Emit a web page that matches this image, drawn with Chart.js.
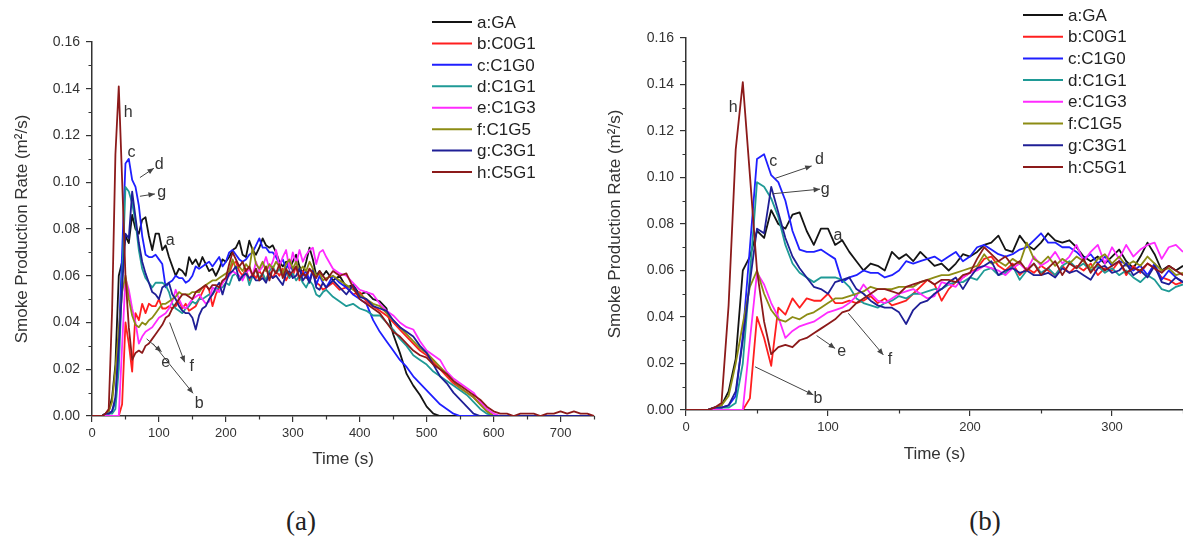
<!DOCTYPE html>
<html>
<head>
<meta charset="utf-8">
<script src="https://cdn.jsdelivr.net/npm/chart.js@4.4.1/dist/chart.umd.min.js"></script>
<style>
  html, body { margin: 0; padding: 0; background: #fff; overflow: hidden; }
  #wrap { position: relative; width: 1183px; height: 539px; }
  canvas { position: absolute; top: 0; }
  .cap { position: absolute; top: 506px; font-family: "Liberation Serif", serif; font-size: 27px; color: #222; transform: translateX(-50%); }
</style>
</head>
<body>
<div id="wrap">
  <canvas id="chartA" width="640" height="480" style="left:0px"></canvas>
  <canvas id="chartB" width="596" height="480" style="left:590px"></canvas>
  <div class="cap" style="left:301px">(a)</div>
  <div class="cap" style="left:985px">(b)</div>
</div>
<script>
// time (s): 5 s steps up to 350, then 10 s steps
const times = [
  0, 5, 10, 15, 20, 25, 30, 35, 40, 45,
  50, 55, 60, 65, 70, 75, 80, 85, 90, 95,
  100, 105, 110, 115, 120, 125, 130, 135, 140, 145,
  150, 155, 160, 165, 170, 175, 180, 185, 190, 195,
  200, 205, 210, 215, 220, 225, 230, 235, 240, 245,
  250, 255, 260, 265, 270, 275, 280, 285, 290, 295,
  300, 305, 310, 315, 320, 325, 330, 335, 340, 345,
  350,
  360, 370, 380, 390, 400, 410, 420, 430, 440, 450,
  460, 470, 480, 490, 500, 510, 520, 530, 540, 550,
  560, 570, 580, 590, 600, 610, 620, 630, 640, 650,
  660, 670, 680, 690, 700, 710, 720, 730, 740, 750
];

// smoke production rate (m2/s)
const rateGA = [
  0, 0, 0, 0, 0.001, 0.002, 0.008, 0.022, 0.060, 0.066,
  0.077, 0.074, 0.086, 0.080, 0.078, 0.084, 0.085, 0.077, 0.071, 0.078,
  0.078, 0.071, 0.073, 0.068, 0.064, 0.060, 0.063, 0.062, 0.060, 0.068,
  0.065, 0.067, 0.064, 0.068, 0.065, 0.062, 0.063, 0.060, 0.063, 0.067,
  0.066, 0.068, 0.071, 0.072, 0.075, 0.069, 0.068, 0.075, 0.071, 0.069,
  0.072, 0.076, 0.073, 0.072, 0.073, 0.070, 0.066, 0.064, 0.066, 0.063,
  0.066, 0.069, 0.064, 0.061, 0.066, 0.072, 0.067, 0.060, 0.062, 0.060,
  0.062,
  0.058, 0.060, 0.055, 0.056, 0.052, 0.053, 0.050, 0.049, 0.046, 0.035,
  0.027, 0.018, 0.013, 0.009, 0.004, 0.001, 0, 0, 0, 0,
  0, 0, 0, 0, 0, 0, 0, 0, 0, 0,
  0, 0, 0, 0, 0, 0, 0, 0, 0, 0
];
const rateC0G1 = [
  0, 0, 0, 0, 0, 0, 0, 0, 0, 0.005,
  0.040, 0.031, 0.019, 0.044, 0.041, 0.048, 0.044, 0.048, 0.047, 0.047,
  0.050, 0.046, 0.046, 0.047, 0.046, 0.047, 0.049, 0.046, 0.048, 0.045,
  0.046, 0.047, 0.050, 0.053, 0.056, 0.054, 0.047, 0.052, 0.055, 0.057,
  0.059, 0.061, 0.065, 0.066, 0.062, 0.060, 0.063, 0.058, 0.061, 0.059,
  0.062, 0.060, 0.058, 0.062, 0.059, 0.062, 0.060, 0.063, 0.058, 0.061,
  0.060, 0.064, 0.058, 0.062, 0.059, 0.063, 0.061, 0.057, 0.056, 0.054,
  0.055,
  0.057, 0.054, 0.055, 0.052, 0.053, 0.049, 0.047, 0.045, 0.043, 0.040,
  0.037, 0.034, 0.031, 0.028, 0.026, 0.023, 0.020, 0.017, 0.014, 0.012,
  0.010, 0.008, 0.005, 0.002, 0, 0, 0, 0, 0, 0,
  0, 0, 0, 0, 0, 0, 0, 0, 0, 0
];
const rateC1G0 = [
  0, 0, 0, 0, 0.001, 0.001, 0.002, 0.006, 0.032, 0.070,
  0.108, 0.110, 0.101, 0.098, 0.090, 0.077, 0.069, 0.068, 0.068, 0.069,
  0.067, 0.065, 0.055, 0.057, 0.058, 0.060, 0.059, 0.059, 0.057, 0.058,
  0.060, 0.064, 0.063, 0.064, 0.065, 0.066, 0.064, 0.066, 0.068, 0.064,
  0.066, 0.070, 0.071, 0.069, 0.067, 0.066, 0.067, 0.069, 0.070, 0.073,
  0.076, 0.072, 0.072, 0.070, 0.070, 0.068, 0.065, 0.067, 0.063, 0.066,
  0.062, 0.064, 0.063, 0.060, 0.062, 0.058, 0.063, 0.056, 0.060, 0.057,
  0.055,
  0.060, 0.057, 0.055, 0.052, 0.050, 0.048, 0.041, 0.036, 0.032, 0.028,
  0.024, 0.021, 0.017, 0.014, 0.011, 0.008, 0.005, 0.003, 0.001, 0,
  0, 0, 0, 0, 0, 0, 0, 0, 0, 0,
  0, 0, 0, 0, 0, 0, 0, 0, 0, 0
];
const rateC1G1 = [
  0, 0, 0, 0, 0.001, 0.001, 0.001, 0.003, 0.020, 0.058,
  0.098, 0.096, 0.091, 0.083, 0.071, 0.063, 0.059, 0.057, 0.055, 0.057,
  0.057, 0.057, 0.056, 0.053, 0.048, 0.046, 0.045, 0.044, 0.046, 0.047,
  0.049, 0.048, 0.050, 0.050, 0.051, 0.052, 0.052, 0.054, 0.055, 0.055,
  0.057, 0.056, 0.060, 0.061, 0.058, 0.059, 0.062, 0.056, 0.060, 0.063,
  0.059, 0.061, 0.058, 0.062, 0.064, 0.061, 0.063, 0.060, 0.062, 0.059,
  0.061, 0.058, 0.060, 0.057, 0.055, 0.058, 0.056, 0.052, 0.051, 0.053,
  0.054,
  0.051, 0.049, 0.047, 0.048, 0.046, 0.045, 0.043, 0.043, 0.040, 0.037,
  0.033, 0.030, 0.026, 0.024, 0.022, 0.019, 0.017, 0.015, 0.013, 0.011,
  0.009, 0.006, 0.003, 0.001, 0, 0, 0, 0, 0, 0,
  0, 0, 0, 0, 0, 0, 0, 0, 0, 0
];
const rateC1G3 = [
  0, 0, 0, 0, 0, 0, 0, 0, 0, 0.030,
  0.059, 0.054, 0.046, 0.040, 0.031, 0.034, 0.036, 0.037, 0.038, 0.040,
  0.042, 0.043, 0.044, 0.046, 0.049, 0.054, 0.050, 0.047, 0.046, 0.048,
  0.050, 0.051, 0.052, 0.050, 0.048, 0.049, 0.055, 0.054, 0.053, 0.057,
  0.059, 0.060, 0.062, 0.061, 0.060, 0.058, 0.061, 0.063, 0.060, 0.066,
  0.062, 0.064, 0.068, 0.063, 0.066, 0.071, 0.064, 0.068, 0.071, 0.063,
  0.070, 0.065, 0.071, 0.066, 0.069, 0.071, 0.072, 0.065, 0.070, 0.071,
  0.068,
  0.063, 0.061, 0.060, 0.057, 0.054, 0.053, 0.052, 0.048, 0.045, 0.043,
  0.040, 0.038, 0.037, 0.032, 0.028, 0.026, 0.024, 0.019, 0.016, 0.014,
  0.012, 0.010, 0.006, 0.003, 0.001, 0, 0, 0, 0, 0,
  0, 0, 0, 0, 0, 0, 0, 0, 0, 0
];
const rateC1G5 = [
  0, 0, 0, 0, 0.001, 0.002, 0.006, 0.020, 0.037, 0.053,
  0.060, 0.050, 0.043, 0.039, 0.038, 0.040, 0.039, 0.041, 0.042, 0.044,
  0.046, 0.048, 0.048, 0.049, 0.050, 0.051, 0.053, 0.052, 0.052, 0.052,
  0.053, 0.053, 0.053, 0.055, 0.056, 0.057, 0.058, 0.058, 0.059, 0.060,
  0.061, 0.062, 0.067, 0.063, 0.064, 0.062, 0.065, 0.063, 0.072, 0.065,
  0.063, 0.066, 0.062, 0.065, 0.063, 0.066, 0.064, 0.061, 0.065, 0.067,
  0.063, 0.066, 0.062, 0.064, 0.062, 0.066, 0.063, 0.060, 0.061, 0.058,
  0.059,
  0.060, 0.058, 0.056, 0.054, 0.052, 0.050, 0.048, 0.047, 0.044, 0.041,
  0.038, 0.035, 0.032, 0.029, 0.027, 0.024, 0.021, 0.018, 0.015, 0.012,
  0.010, 0.008, 0.005, 0.002, 0, 0, 0, 0, 0, 0,
  0, 0, 0, 0, 0, 0, 0, 0, 0, 0
];
const rateC3G1 = [
  0, 0, 0, 0, 0.001, 0.001, 0.002, 0.008, 0.030, 0.055,
  0.078, 0.076, 0.096, 0.085, 0.074, 0.066, 0.061, 0.057, 0.053, 0.052,
  0.050, 0.055, 0.056, 0.057, 0.052, 0.050, 0.047, 0.045, 0.044, 0.044,
  0.042, 0.037, 0.043, 0.046, 0.047, 0.050, 0.052, 0.055, 0.057, 0.052,
  0.057, 0.061, 0.062, 0.064, 0.058, 0.060, 0.061, 0.059, 0.060, 0.058,
  0.058, 0.059, 0.057, 0.061, 0.059, 0.060, 0.058, 0.056, 0.061, 0.062,
  0.059, 0.060, 0.063, 0.058, 0.060, 0.057, 0.062, 0.055, 0.054, 0.057,
  0.055,
  0.058, 0.055, 0.052, 0.056, 0.051, 0.050, 0.047, 0.046, 0.045, 0.041,
  0.038, 0.036, 0.034, 0.030, 0.027, 0.022, 0.017, 0.014, 0.010, 0.007,
  0.004, 0.001, 0, 0, 0, 0, 0, 0, 0, 0,
  0, 0, 0, 0, 0, 0, 0, 0, 0, 0
];
const rateC5G1 = [
  0, 0, 0, 0, 0.001, 0.003, 0.045, 0.112, 0.141, 0.101,
  0.060, 0.038, 0.024, 0.027, 0.028, 0.027, 0.030, 0.031, 0.033, 0.035,
  0.037, 0.039, 0.042, 0.043, 0.046, 0.048, 0.050, 0.052, 0.052, 0.051,
  0.050, 0.053, 0.054, 0.055, 0.056, 0.054, 0.056, 0.056, 0.055, 0.058,
  0.059, 0.065, 0.070, 0.067, 0.064, 0.066, 0.062, 0.064, 0.060, 0.063,
  0.058, 0.061, 0.064, 0.058, 0.063, 0.061, 0.065, 0.059, 0.063, 0.060,
  0.062, 0.064, 0.059, 0.061, 0.060, 0.063, 0.061, 0.059, 0.062, 0.060,
  0.058,
  0.062, 0.060, 0.061, 0.055, 0.050, 0.048, 0.046, 0.044, 0.040, 0.036,
  0.034, 0.031, 0.028, 0.026, 0.025, 0.022, 0.020, 0.018, 0.015, 0.013,
  0.011, 0.009, 0.007, 0.004, 0.002, 0.001, 0.001, 0, 0.001, 0.001,
  0.001, 0, 0.001, 0.001, 0.002, 0.001, 0.002, 0.001, 0.001, 0
];

const seriesLabels = ['a:GA', 'b:C0G1', 'c:C1G0', 'd:C1G1', 'e:C1G3', 'f:C1G5', 'g:C3G1', 'h:C5G1'];
const seriesValues = [rateGA, rateC0G1, rateC1G0, rateC1G1, rateC1G3, rateC1G5, rateC3G1, rateC5G1];
const seriesColors = ['#141414', '#ff1f1f', '#1f1fff', '#1f9a96', '#ff2bff', '#8c8c14', '#1f1f96', '#8c1a1a'];

// tick values
const rateMinorTicks = [0.01, 0.03, 0.05, 0.07, 0.09, 0.11, 0.13, 0.15];
const timeMinorTicksA = [50, 150, 250, 350, 450, 550, 650, 750];
const timeMinorTicksB = [50, 150, 250, 350];

// curve labels (letter, time, rate) and arrows (from time/rate -> to time/rate)
const labelsA = [['h', 54, 0.130], ['c', 59, 0.1125], ['d', 100.5, 0.1075], ['g', 104, 0.0954],
                 ['a', 117, 0.075], ['e', 110, 0.023], ['f', 149, 0.021], ['b', 160, 0.0054]];
const arrowsA = [[71.6, 0.102, 92.5, 0.106], [71.6, 0.094, 94, 0.095], [81.6, 0.033, 104, 0.0275],
                 [116, 0.040, 138.5, 0.023], [91, 0.031, 151, 0.0097]];
const labelsB = [['h', 33.3, 0.130], ['c', 61.5, 0.107], ['d', 94, 0.1075], ['g', 98, 0.0946],
                 ['a', 107, 0.075], ['e', 109.6, 0.025], ['f', 143.6, 0.0215], ['b', 93, 0.005]];
const arrowsB = [[62.7, 0.0996, 88.5, 0.105], [61, 0.093, 94.4, 0.095], [92, 0.032, 105, 0.0265],
                 [114.3, 0.0416, 139, 0.0237], [48.6, 0.0186, 89.7, 0.0065]];

const FONT = '"Liberation Sans", Arial, sans-serif';
const INK = '#333';

const extras = {
  id: 'extras',
  afterDraw(chart, args, o) {
    const { ctx, scales: { x, y } } = chart;
    ctx.save();
    // minor ticks
    ctx.strokeStyle = INK;
    ctx.lineWidth = 1.2;
    ctx.beginPath();
    o.xMinor.forEach(v => {
      const px = Math.round(x.getPixelForValue(v)) + 0.5;
      ctx.moveTo(px, y.bottom);
      ctx.lineTo(px, y.bottom + 3.5);
    });
    rateMinorTicks.forEach(v => {
      const py = Math.round(y.getPixelForValue(v)) + 0.5;
      ctx.moveTo(x.left, py);
      ctx.lineTo(x.left - 3.5, py);
    });
    ctx.stroke();

    // arrows
    ctx.strokeStyle = '#444';
    ctx.fillStyle = '#444';
    ctx.lineWidth = 1;
    o.arrows.forEach(a => {
      const x0 = x.getPixelForValue(a[0]), y0 = y.getPixelForValue(a[1]);
      const x1 = x.getPixelForValue(a[2]), y1 = y.getPixelForValue(a[3]);
      const ang = Math.atan2(y1 - y0, x1 - x0);
      ctx.beginPath();
      ctx.moveTo(x0, y0);
      ctx.lineTo(x1, y1);
      ctx.stroke();
      ctx.beginPath();
      ctx.moveTo(x1, y1);
      ctx.lineTo(x1 - 7 * Math.cos(ang - 0.4), y1 - 7 * Math.sin(ang - 0.4));
      ctx.lineTo(x1 - 7 * Math.cos(ang + 0.4), y1 - 7 * Math.sin(ang + 0.4));
      ctx.closePath();
      ctx.fill();
    });

    // letters
    ctx.fillStyle = INK;
    ctx.font = '16px ' + FONT;
    ctx.textAlign = 'center';
    ctx.textBaseline = 'middle';
    o.labels.forEach(l => {
      ctx.fillText(l[0], x.getPixelForValue(l[1]), y.getPixelForValue(l[2]));
    });

    // legend
    const lg = o.legend;
    ctx.font = '17px ' + FONT;
    ctx.textAlign = 'left';
    chart.data.datasets.forEach((ds, i) => {
      const ly = lg.y + i * lg.dy;
      ctx.strokeStyle = ds.borderColor;
      ctx.lineWidth = 2;
      ctx.beginPath();
      ctx.moveTo(lg.x, ly);
      ctx.lineTo(lg.x + 40, ly);
      ctx.stroke();
      ctx.fillStyle = '#222';
      ctx.fillText(ds.label, lg.x + 45, ly + 1);
    });
    ctx.restore();
  }
};

function buildChart(id, o) {
  return new Chart(document.getElementById(id), {
    type: 'line',
    data: {
      datasets: seriesLabels.map((label, i) => ({
        label,
        data: times.map((t, k) => ({ x: t, y: seriesValues[i][k] })),
        borderColor: seriesColors[i],
        borderWidth: 1.8,
        borderJoinStyle: 'round',
        pointRadius: 0,
        tension: 0,
        order: 8 - i
      }))
    },
    options: {
      responsive: false,
      animation: false,
      events: [],
      layout: { padding: { left: 0, top: o.top, right: o.right, bottom: 0 } },
      plugins: {
        legend: { display: false },
        tooltip: { enabled: false },
        extras: { xMinor: o.xMinor, labels: o.labels, arrows: o.arrows, legend: o.legend }
      },
      scales: {
        x: {
          type: 'linear',
          min: 0,
          max: o.xMax,
          afterFit: s => { s.height = o.xHeight; },
          ticks: { stepSize: 100, includeBounds: false, maxRotation: 0, padding: 4,
                   color: INK, font: { family: FONT, size: 13 } },
          grid: { drawOnChartArea: false, drawTicks: true, tickLength: 6, color: INK, lineWidth: 1.2 },
          border: { display: true, color: INK, width: 1.5 },
          title: { display: true, text: 'Time (s)', color: INK, font: { family: FONT, size: 17 },
                   padding: { top: 0, bottom: o.xTitlePad } }
        },
        y: {
          min: 0,
          max: 0.16,
          afterFit: s => { s.width = o.yWidth; },
          ticks: { stepSize: 0.02, padding: 6, color: INK, font: { family: FONT, size: 14 },
                   callback: v => v.toFixed(2) },
          grid: { drawOnChartArea: false, drawTicks: true, tickLength: 6, color: INK, lineWidth: 1.2 },
          border: { display: true, color: INK, width: 1.5 },
          title: { display: true, text: 'Smoke Production Rate (m²/s)', color: INK,
                   font: { family: FONT, size: 17 }, padding: { top: o.yTitlePad, bottom: 0 } }
        }
      }
    },
    plugins: [extras]
  });
}

buildChart('chartA', {
  xMax: 750, top: 42, right: 46, xHeight: 64, yWidth: 92, xTitlePad: 10, yTitlePad: 12.5,
  xMinor: timeMinorTicksA, labels: labelsA, arrows: arrowsA,
  legend: { x: 432, y: 22, dy: 21.43 }
});
buildChart('chartB', {
  xMax: 350, top: 38, right: 3, xHeight: 70, yWidth: 96, xTitlePad: 15, yTitlePad: 14.8,
  xMinor: timeMinorTicksB, labels: labelsB, arrows: arrowsB,
  legend: { x: 433, y: 15, dy: 21.7 }
});
</script>
</body>
</html>
